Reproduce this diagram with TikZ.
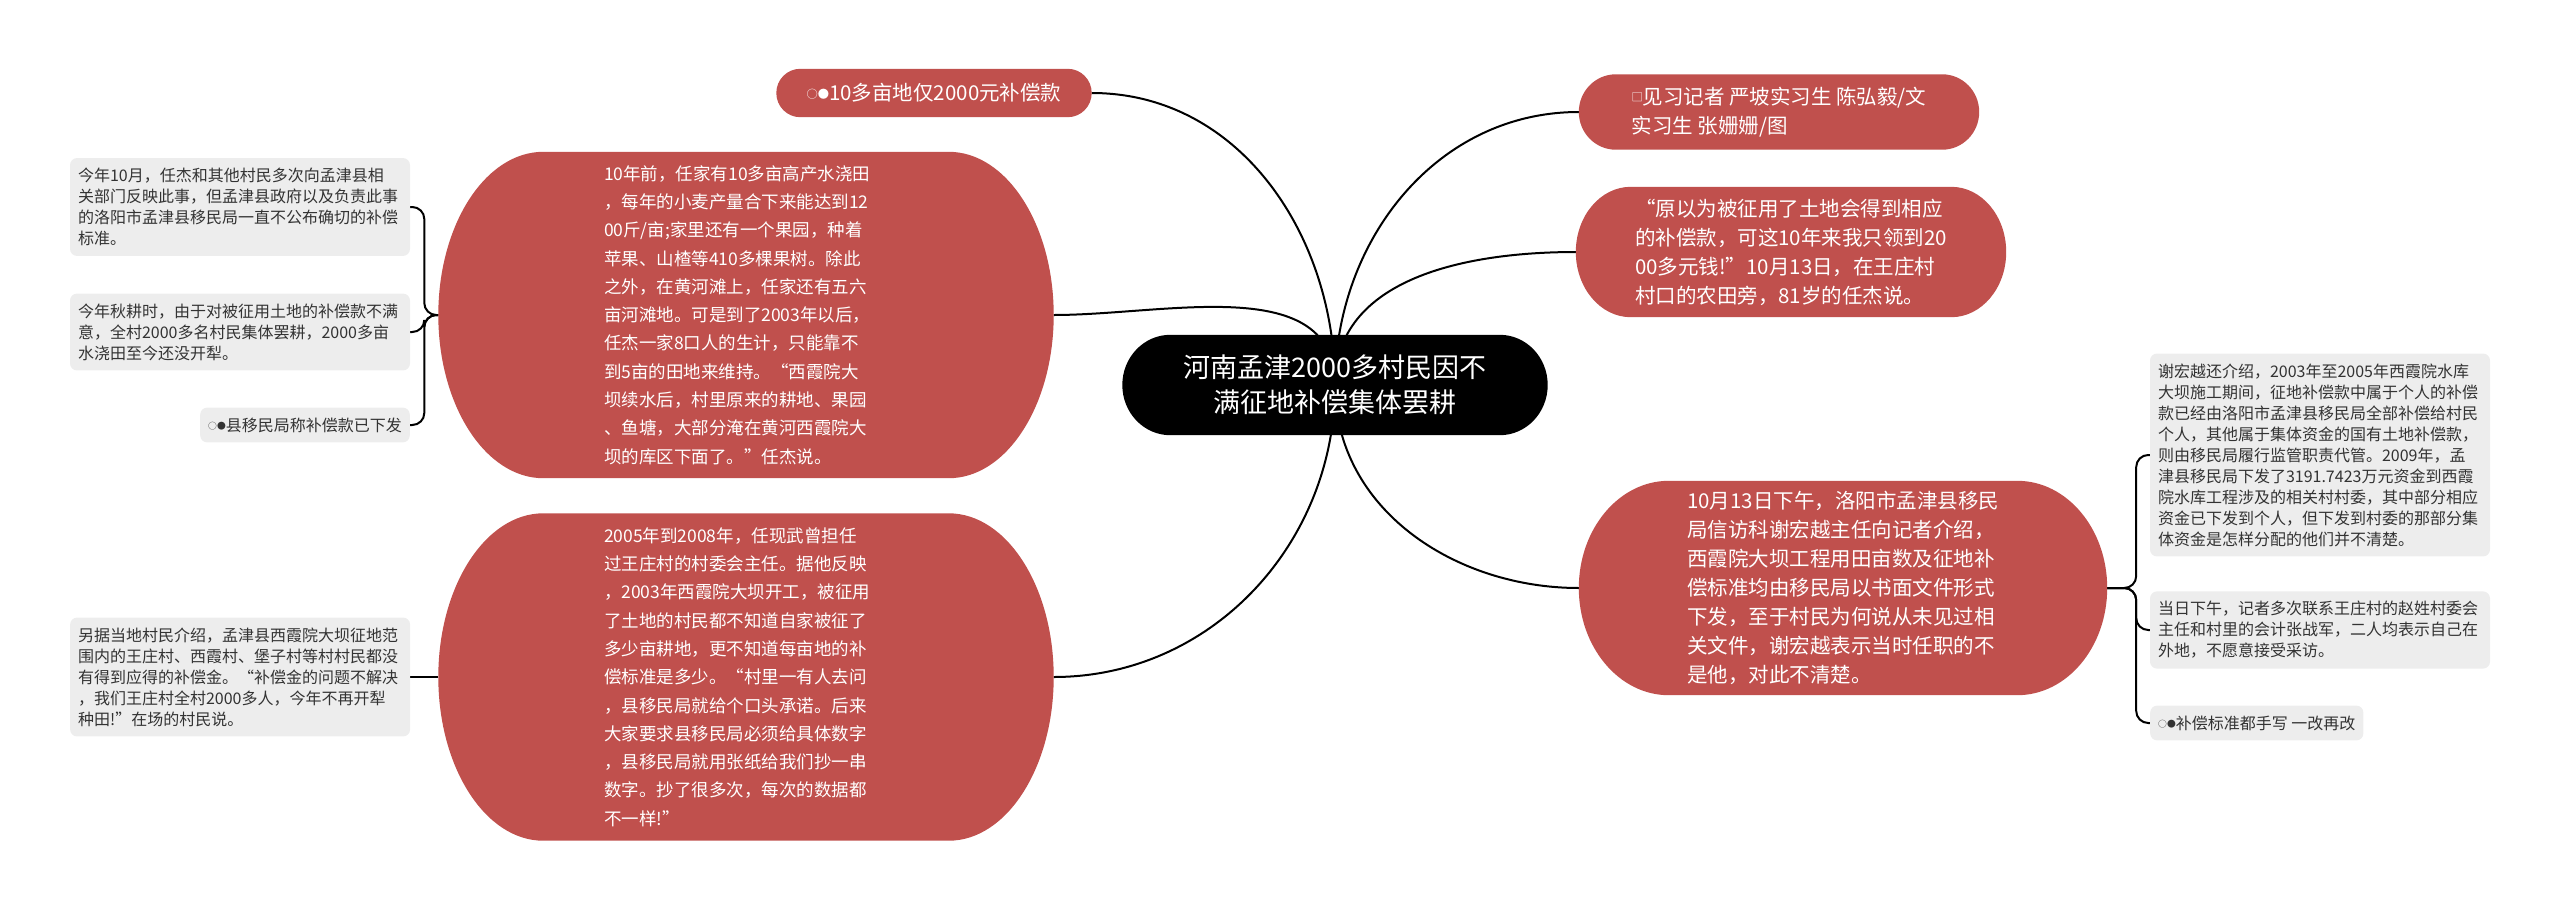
\documentclass[tikz,border=0pt]{standalone}
\usepackage{fontspec}
\setmainfont{Noto Sans CJK SC}
\usetikzlibrary{positioning,calc,backgrounds}
\definecolor{topicred}{HTML}{C0504D}
\definecolor{leafgrey}{HTML}{EDEDED}
\definecolor{leaftext}{HTML}{333333}
\newcommand\smallmark[1]{\raisebox{0.12em}{\scalebox{0.55}{#1}}}
% pill with elliptic ends behind a node
\newcommand\pillfill[3]{%
  \fill[#2] let \p1=(#1.south west), \p2=(#1.north east), \n1={(\y2-\y1)/2} in
    (\x1+#3pt,\y1) -- (\x2-#3pt,\y1)
    arc[start angle=-90, end angle=90, x radius=#3pt, y radius=\n1]
    -- (\x1+#3pt,\y2)
    arc[start angle=90, end angle=270, x radius=#3pt, y radius=\n1] -- cycle;}

\begin{document}
\begin{tikzpicture}[x=1pt, y=1pt,
  root/.style={minimum width=425pt, minimum height=100pt, inner sep=0pt, align=center,
    text=white, font=\fontsize{27}{35}\selectfont},
  topic/.style={inner sep=0pt, align=left, text=white, font=\fontsize{20.5}{29}\selectfont},
  longtopic/.style={topic, minimum width=615pt, text width=284pt, font=\fontsize{17.5}{28.3}\selectfont},
  leaf/.style={fill=leafgrey, rounded corners=7pt, text=leaftext, align=left,
    inner xsep=8pt, inner ysep=10pt, font=\fontsize{16}{21}\selectfont},
  wide/.style={text width=324pt},
  link/.style={line width=2pt},
  brace/.style={line width=2pt, rounded corners=12pt}]
\useasboundingbox (0,0) rectangle (2560,-911);
% 中心
\node[root] (C) at (1335,-385) {河南孟津2000多村民因不\\满征地补偿集体罢耕};
% 左侧
\node[topic, minimum width=315pt, minimum height=48pt] (T) at (934,-93)
  {\smallmark{○●}10多亩地仅2000元补偿款};
\node[longtopic, minimum height=326pt] (P1) at (746,-315)
  {10年前，任家有10多亩高产水浇田\\，每年的小麦产量合下来能达到12\\00斤/亩;家里还有一个果园，种着\\
   苹果、山楂等410多棵果树。除此\\之外，在黄河滩上，任家还有五六\\亩河滩地。可是到了2003年以后，\\
   任杰一家8口人的生计，只能靠不\\到5亩的田地来维持。“西霞院大\\坝续水后，村里原来的耕地、果园\\
   、鱼塘，大部分淹在黄河西霞院大\\坝的库区下面了。”任杰说。};
\node[longtopic, minimum height=327pt] (P2) at (746,-677)
  {2005年到2008年，任现武曾担任\\过王庄村的村委会主任。据他反映\\，2003年西霞院大坝开工，被征用\\
   了土地的村民都不知道自家被征了\\多少亩耕地，更不知道每亩地的补\\偿标准是多少。“村里一有人去问\\
   ，县移民局就给个口头承诺。后来\\大家要求县移民局必须给具体数字\\，县移民局就用张纸给我们抄一串\\
   数字。抄了很多次，每次的数据都\\不一样!”};
\node[leaf, wide] (L1) at (240,-207)
  {今年10月，任杰和其他村民多次向孟津县相\\关部门反映此事，但孟津县政府以及负责此事\\
   的洛阳市孟津县移民局一直不公布确切的补偿\\标准。};
\node[leaf, wide] (L2) at (240,-332)
  {今年秋耕时，由于对被征用土地的补偿款不满\\意，全村2000多名村民集体罢耕，2000多亩\\水浇田至今还没开犁。};
\node[leaf, anchor=east] (L3) at (410,-425) {\smallmark{○●}县移民局称补偿款已下发};
\node[leaf, wide, left=28pt of P2] (L4)
  {另据当地村民介绍，孟津县西霞院大坝征地范\\围内的王庄村、西霞村、堡子村等村村民都没\\
   有得到应得的补偿金。“补偿金的问题不解决\\，我们王庄村全村2000多人，今年不再开犁\\种田!”在场的村民说。};
% 右侧
\node[topic, minimum width=400pt, minimum height=75pt] (R1) at (1779,-112)
  {\smallmark{□}见习记者 严坡实习生 陈弘毅/文\\实习生 张姗姗/图};
\node[topic, minimum width=430pt, minimum height=130pt] (R2) at (1791,-252)
  {“原以为被征用了土地会得到相应\\的补偿款，可这10年来我只领到20\\00多元钱!”10月13日，在王庄村\\村口的农田旁，81岁的任杰说。};
\node[topic, minimum width=528pt, minimum height=214pt] (R3) at (1843,-588)
  {10月13日下午，洛阳市孟津县移民\\局信访科谢宏越主任向记者介绍，\\西霞院大坝工程用田亩数及征地补\\
   偿标准均由移民局以书面文件形式\\下发，至于村民为何说从未见过相\\关文件，谢宏越表示当时任职的不\\是他，对此不清楚。};
\node[leaf, wide] (E1) at (2320,-455)
  {谢宏越还介绍，2003年至2005年西霞院水库\\大坝施工期间，征地补偿款中属于个人的补偿\\
   款已经由洛阳市孟津县移民局全部补偿给村民\\个人，其他属于集体资金的国有土地补偿款，\\
   则由移民局履行监管职责代管。2009年，孟\\津县移民局下发了3191.7423万元资金到西霞\\
   院水库工程涉及的相关村村委，其中部分相应\\资金已下发到个人，但下发到村委的那部分集\\
   体资金是怎样分配的他们并不清楚。};
\node[leaf, wide] (E2) at (2320,-630)
  {当日下午，记者多次联系王庄村的赵姓村委会\\主任和村里的会计张战军，二人均表示自己在\\外地，不愿意接受采访。};
\node[leaf, anchor=west] (E3) at (2150,-723) {\smallmark{○●}补偿标准都手写 一改再改};
\coordinate[left=14pt of P1] (jL);
\coordinate[right=29pt of R3] (jR);

\begin{pgfonlayer}{background}
\draw[link] (C.center) to[out=90, in=0] (T.east);
\draw[link] (C.center) to[out=90, in=0] (P1.east);
\draw[link] (C.center) to[out=-90, in=0] (P2.east);
\draw[link] (C.center) to[out=90, in=180] (R1.west);
\draw[link] (C.center) to[out=90, in=180] (R2.west);
\draw[link] (C.center) to[out=-90, in=180] (R3.west);
\draw[brace] (P1.west) -- (jL) |- (L1.east);
\draw[brace] (P1.west) -- (jL) |- (L2.east);
\draw[brace] (P1.west) -- (jL) |- (L3.east);
\draw[link] (P2.west) -- (L4.east);
\draw[brace] (R3.east) -- (jR) |- (E1.west);
\draw[brace] (R3.east) -- (jR) |- (E2.west);
\draw[brace] (R3.east) -- (jR) |- (E3.west);
\pillfill{C}{black}{48}
\pillfill{T}{topicred}{24}
\pillfill{P1}{topicred}{105}
\pillfill{P2}{topicred}{105}
\pillfill{R1}{topicred}{37}
\pillfill{R2}{topicred}{55}
\pillfill{R3}{topicred}{90}
\end{pgfonlayer}
\end{tikzpicture}
\end{document}
